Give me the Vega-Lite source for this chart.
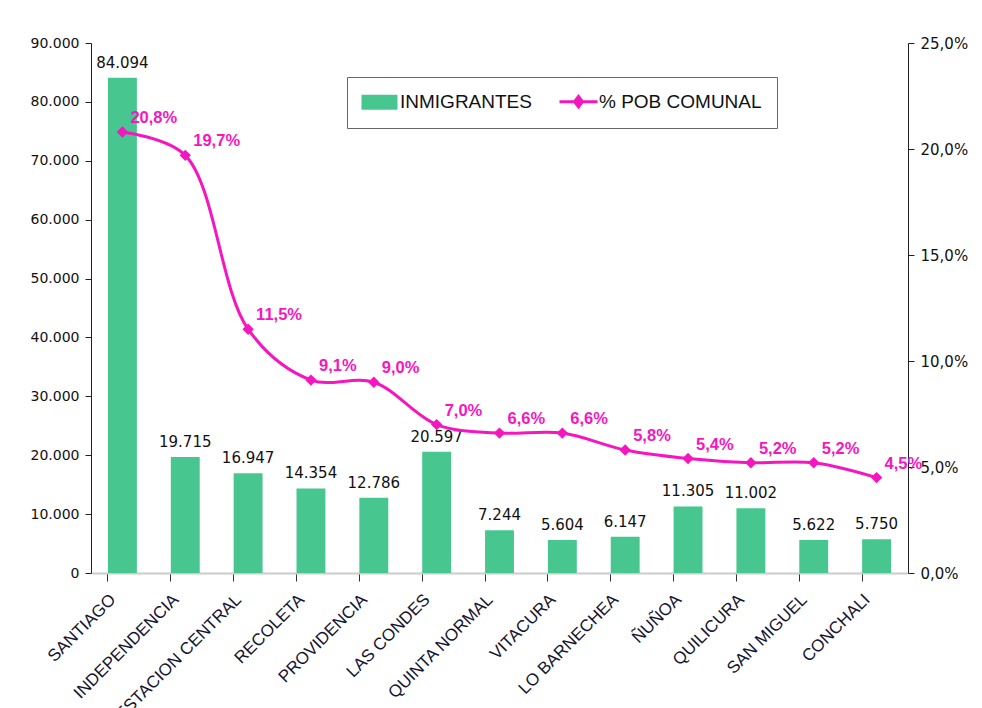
{
  "$schema": "https://vega.github.io/schema/vega-lite/v6.json",
  "width": 817,
  "height": 530,
  "autosize": {"type": "none"},
  "padding": {"left": 91, "top": 43, "right": 74, "bottom": 135},
  "background": "white",
  "config": {
    "font": "Liberation Sans",
    "view": {"stroke": null},
    "locale": {"number": {"decimal": ",", "thousands": ".", "grouping": [3], "currency": ["$", ""], "percent": "%"}}
  },
  "data": {
    "values": [
      {"comuna": "SANTIAGO", "inmigrantes": 84094, "pct": 0.208},
      {"comuna": "INDEPENDENCIA", "inmigrantes": 19715, "pct": 0.197},
      {"comuna": "ESTACION CENTRAL", "inmigrantes": 16947, "pct": 0.115},
      {"comuna": "RECOLETA", "inmigrantes": 14354, "pct": 0.091},
      {"comuna": "PROVIDENCIA", "inmigrantes": 12786, "pct": 0.090},
      {"comuna": "LAS CONDES", "inmigrantes": 20597, "pct": 0.070},
      {"comuna": "QUINTA NORMAL", "inmigrantes": 7244, "pct": 0.066},
      {"comuna": "VITACURA", "inmigrantes": 5604, "pct": 0.066},
      {"comuna": "LO BARNECHEA", "inmigrantes": 6147, "pct": 0.058},
      {"comuna": "ÑUÑOA", "inmigrantes": 11305, "pct": 0.054},
      {"comuna": "QUILICURA", "inmigrantes": 11002, "pct": 0.052},
      {"comuna": "SAN MIGUEL", "inmigrantes": 5622, "pct": 0.052},
      {"comuna": "CONCHALI", "inmigrantes": 5750, "pct": 0.045}
    ]
  },
  "encoding": {
    "x": {
      "field": "comuna",
      "type": "nominal",
      "sort": null,
      "scale": {"paddingInner": 0.54, "paddingOuter": 0.27},
      "axis": {
        "title": null,
        "labelAngle": -45,
        "labelFont": "Liberation Sans",
        "labelFontSize": 17,
        "labelColor": "#151530",
        "labelPadding": 10,
        "labelOffset": -15,
        "bandPosition": 0,
        "tickSize": 8,
        "tickColor": "#333",
        "domainColor": "#cccccc",
        "domainWidth": 2,
        "labelOverlap": false
      }
    }
  },
  "layer": [
    {
      "layer": [
        {
          "mark": {"type": "bar", "color": "#47C78F"},
          "encoding": {
            "y": {
              "field": "inmigrantes",
              "type": "quantitative",
              "scale": {"domain": [0, 90000], "nice": false},
              "axis": {
                "title": null,
                "values": [0, 10000, 20000, 30000, 40000, 50000, 60000, 70000, 80000, 90000],
                "format": ",d",
                "grid": false,
                "labelFont": "DejaVu Sans",
                "labelFontSize": 14,
                "labelColor": "#111",
                "domainColor": "#222",
                "tickColor": "#222",
                "tickSize": 6,
                "labelPadding": 6
              }
            },
            "color": {
              "datum": "INMIGRANTES",
              "scale": {"domain": ["INMIGRANTES", "% POB COMUNAL"], "range": ["#47C78F", "#F516C0"]},
              "legend": {
                "title": null,
                "orient": "none",
                "legendX": 256,
                "legendY": 34,
                "direction": "horizontal",
                "strokeColor": "#666",
                "padding": 15,
                "symbolOffset": 8,
                "columnPadding": 21,
                "labelFont": "Liberation Sans",
                "labelFontSize": 19,
                "labelLimit": 400,
                "labelColor": "#111",
                "labelOffset": 11,
                "symbolSize": 1600,
                "symbolStrokeWidth": 3,
                "encode": {
                  "symbols": {
                    "update": {
                      "shape": {"signal": "datum.value === 'INMIGRANTES' ? 'M-0.9,-0.38H0.9V0.38H-0.9Z' : 'M-0.95,0H0.95M0,-0.26L0.2,0L0,0.26L-0.2,0Z'"},
                      "fill": {"signal": "datum.value === 'INMIGRANTES' ? '#47C78F' : '#F516C0'"},
                      "stroke": {"signal": "datum.value === 'INMIGRANTES' ? '#47C78F' : '#F516C0'"},
                      "strokeWidth": {"signal": "datum.value === 'INMIGRANTES' ? 0 : 3"}
                    }
                  }
                }
              }
            }
          }
        },
        {
          "mark": {"type": "text", "baseline": "bottom", "dy": -7, "font": "DejaVu Sans", "fontSize": 15, "color": "#111"},
          "encoding": {
            "y": {"field": "inmigrantes", "type": "quantitative"},
            "text": {"field": "inmigrantes", "type": "quantitative", "format": ",d"}
          }
        }
      ]
    },
    {
      "layer": [
        {
          "mark": {"type": "line", "interpolate": "catmull-rom", "strokeWidth": 3, "point": {"shape": "diamond", "size": 130, "filled": true}},
          "encoding": {
            "y": {
              "field": "pct",
              "type": "quantitative",
              "scale": {"domain": [0, 0.25], "nice": false},
              "axis": {
                "orient": "right",
                "title": null,
                "values": [0, 0.05, 0.1, 0.15, 0.2, 0.25],
                "format": ".1%",
                "grid": false,
                "labelFont": "DejaVu Sans",
                "labelFontSize": 15,
                "labelColor": "#111",
                "domainColor": "#222",
                "tickColor": "#222",
                "tickSize": 6,
                "labelPadding": 6
              }
            },
            "color": {"datum": "% POB COMUNAL"}
          }
        },
        {
          "mark": {"type": "text", "align": "left", "baseline": "middle", "dx": 8, "dy": -14, "font": "Liberation Sans", "fontSize": 16.5, "fontWeight": "bold", "color": "#F516C0"},
          "encoding": {
            "y": {"field": "pct", "type": "quantitative"},
            "text": {"field": "pct", "type": "quantitative", "format": ".1%"}
          }
        }
      ]
    }
  ],
  "resolve": {"scale": {"y": "independent"}}
}
